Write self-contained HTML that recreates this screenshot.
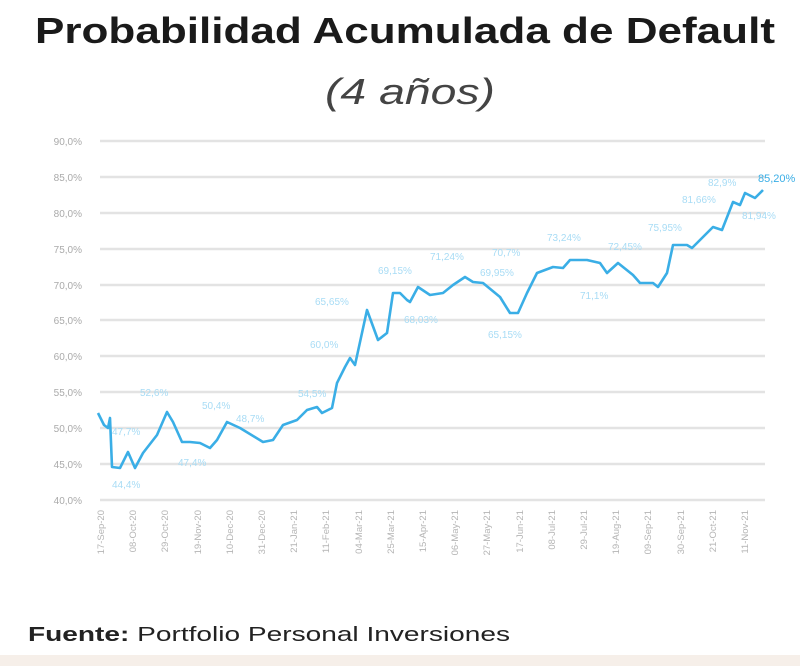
<!DOCTYPE html>
<html><head><meta charset="utf-8"><style>
body{margin:0;width:800px;height:666px;background:#fff;overflow:hidden;font-family:"Liberation Sans",sans-serif}
</style></head><body>
<svg width="800" height="666" xmlns="http://www.w3.org/2000/svg" font-family="Liberation Sans, sans-serif">
<rect x="0" y="655" width="800" height="11" fill="#f6efe9"/>
<text x="35" y="43" font-size="36" font-weight="bold" fill="#1a1a1a" textLength="740" lengthAdjust="spacingAndGlyphs">Probabilidad Acumulada de Default</text>
<text x="325" y="104" font-size="36" font-style="italic" fill="#444" textLength="170" lengthAdjust="spacingAndGlyphs">(4 años)</text>
<g stroke="#e3e3e3" stroke-width="2.5">
<line x1="100" y1="141" x2="765" y2="141"/><line x1="100" y1="177" x2="765" y2="177"/><line x1="100" y1="213" x2="765" y2="213"/><line x1="100" y1="249" x2="765" y2="249"/><line x1="100" y1="285" x2="765" y2="285"/><line x1="100" y1="320" x2="765" y2="320"/><line x1="100" y1="356" x2="765" y2="356"/><line x1="100" y1="392" x2="765" y2="392"/><line x1="100" y1="428" x2="765" y2="428"/><line x1="100" y1="464" x2="765" y2="464"/><line x1="100" y1="500" x2="765" y2="500"/>
</g>
<g font-size="10" fill="#aaa" text-anchor="end">
<text x="82" y="145">90,0%</text><text x="82" y="181">85,0%</text><text x="82" y="217">80,0%</text><text x="82" y="253">75,0%</text><text x="82" y="289">70,0%</text><text x="82" y="324">65,0%</text><text x="82" y="360">60,0%</text><text x="82" y="396">55,0%</text><text x="82" y="432">50,0%</text><text x="82" y="468">45,0%</text><text x="82" y="504">40,0%</text>
</g>
<polyline fill="none" stroke="#3aaee6" stroke-width="2.6" stroke-linejoin="round" points="98,413 104,425 108,428 110,418 112,467 120,468 128,452 135,468 143,453 157,435 167,412 173,422 182,442 190,442 200,443 210,448 217,440 227,422 240,428 263,442 273,440 283,425 297,420 307,410 317,407 322,413 332,408 337,383 345,367 350,358 355,365 367,310 378,340 387,333 393,293 400,293 407,300 410,302 418,287 430,295 443,293 453,285 465,277 473,282 483,283 500,297 510,313 518,313 527,293 537,273 553,267 563,268 570,260 587,260 600,263 607,273 618,263 633,275 640,283 653,283 658,287 667,273 673,245 687,245 692,248 702,238 713,227 722,230 733,202 740,205 745,193 755,198 763,190"/>
<g font-size="10" fill="#a8dcf5">
<text x="112" y="435">47,7%</text><text x="140" y="396">52,6%</text><text x="112" y="488">44,4%</text><text x="178" y="466">47,4%</text><text x="202" y="409">50,4%</text><text x="236" y="422">48,7%</text><text x="298" y="397">54,5%</text><text x="310" y="348">60,0%</text><text x="315" y="305">65,65%</text><text x="378" y="274">69,15%</text><text x="404" y="323">68,03%</text><text x="430" y="260">71,24%</text><text x="480" y="276">69,95%</text><text x="492" y="256">70,7%</text><text x="488" y="338">65,15%</text><text x="547" y="241">73,24%</text><text x="580" y="299">71,1%</text><text x="608" y="250">72,45%</text><text x="648" y="231">75,95%</text><text x="682" y="203">81,66%</text><text x="708" y="186">82,9%</text><text x="742" y="219">81,94%</text>
</g>
<text x="758" y="182" font-size="11" fill="#3aaee6">85,20%</text>
<g font-size="9.5" fill="#b5b5b5" text-anchor="end">
<text transform="translate(104,510) rotate(-90)">17-Sep-20</text><text transform="translate(136,510) rotate(-90)">08-Oct-20</text><text transform="translate(168,510) rotate(-90)">29-Oct-20</text><text transform="translate(201,510) rotate(-90)">19-Nov-20</text><text transform="translate(233,510) rotate(-90)">10-Dec-20</text><text transform="translate(265,510) rotate(-90)">31-Dec-20</text><text transform="translate(297,510) rotate(-90)">21-Jan-21</text><text transform="translate(329,510) rotate(-90)">11-Feb-21</text><text transform="translate(362,510) rotate(-90)">04-Mar-21</text><text transform="translate(394,510) rotate(-90)">25-Mar-21</text><text transform="translate(426,510) rotate(-90)">15-Apr-21</text><text transform="translate(458,510) rotate(-90)">06-May-21</text><text transform="translate(490,510) rotate(-90)">27-May-21</text><text transform="translate(523,510) rotate(-90)">17-Jun-21</text><text transform="translate(555,510) rotate(-90)">08-Jul-21</text><text transform="translate(587,510) rotate(-90)">29-Jul-21</text><text transform="translate(619,510) rotate(-90)">19-Aug-21</text><text transform="translate(651,510) rotate(-90)">09-Sep-21</text><text transform="translate(684,510) rotate(-90)">30-Sep-21</text><text transform="translate(716,510) rotate(-90)">21-Oct-21</text><text transform="translate(748,510) rotate(-90)">11-Nov-21</text>
</g>
<text x="28" y="641" font-size="20" fill="#222" textLength="482" lengthAdjust="spacingAndGlyphs"><tspan font-weight="bold">Fuente:</tspan> Portfolio Personal Inversiones</text>
</svg>
</body></html>
